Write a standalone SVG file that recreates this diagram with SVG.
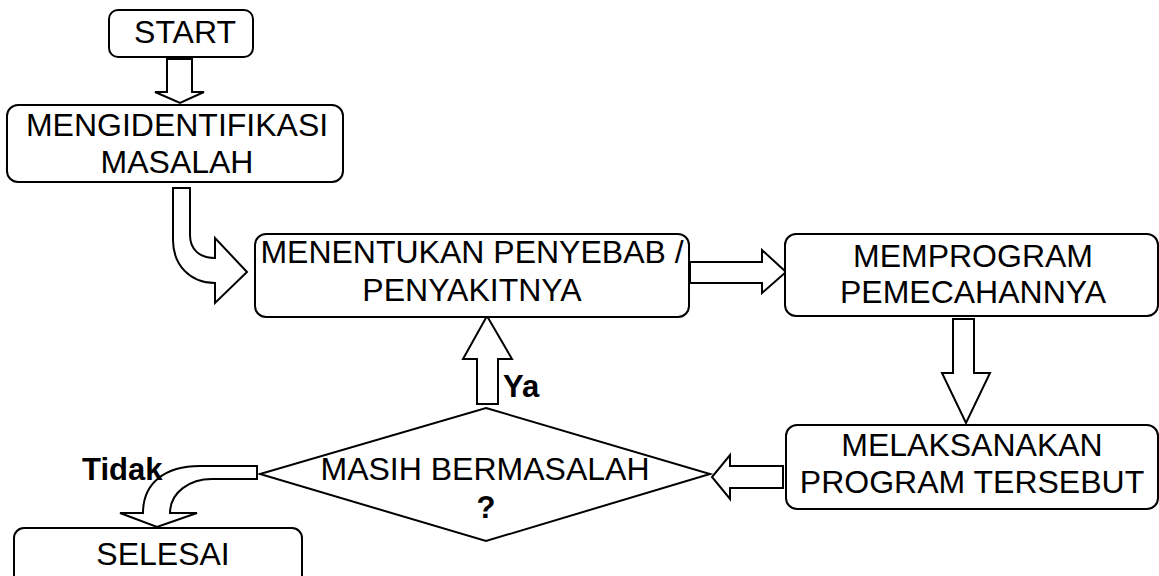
<svg xmlns="http://www.w3.org/2000/svg" width="1159" height="576" viewBox="0 0 1159 576">
<style>
.box{fill:#fff;stroke:#000;stroke-width:2}
.arr{fill:#fff;stroke:#000;stroke-width:2;stroke-linejoin:miter}
.t{font-family:"Liberation Sans",Arial,sans-serif;font-size:32px;fill:#000;text-anchor:middle}
.b{font-family:"Liberation Sans",Arial,sans-serif;font-size:31px;font-weight:bold;fill:#000}
</style>
<rect width="1159" height="576" fill="#fff"/>
<g id="connectors">
<path class="arr" d="M167,59 H192 V92 H204 L180,103 L155,92 H167 Z"/>
<path class="arr" d="M173,188 H190 V235 C190,250 200,258 215,258 V238 L247,272 L215,303 V283 C190,283 173,265 173,240 Z"/>
<path class="arr" d="M690,262 H762 V250 L786,272 L762,293 V283 H690 Z"/>
<path class="arr" d="M953,319 H974 V373 H990 L966,423 L942,373 H953 Z"/>
<path class="arr" d="M783,466 V488 H730 V499 L712,477 L730,455 V466 Z"/>
<path class="arr" d="M477,404 V359 H463 L487,316 L512,359 H498 V404 Z"/>
<path class="arr" d="M257,466 V479 H212 C190,479 170,492 170,513 H197 L157,527 L120,513 H143 C143,483 165,466 200,466 Z"/>
</g>
<g id="start">
<rect class="box" x="109" y="10" width="144" height="47" rx="9"/>
<text class="t" x="185" y="43">START</text>
</g>
<g id="identifikasi">
<rect class="box" x="7" y="105" width="336" height="77" rx="11"/>
<text class="t" x="177" y="136">MENGIDENTIFIKASI</text>
<text class="t" x="177" y="172.5">MASALAH</text>
</g>
<g id="penyebab">
<rect class="box" x="255" y="234" width="434" height="83" rx="11"/>
<text class="t" x="472" y="263">MENENTUKAN PENYEBAB /</text>
<text class="t" x="472" y="301">PENYAKITNYA</text>
</g>
<g id="memprogram">
<rect class="box" x="785" y="234" width="373" height="82" rx="11"/>
<text class="t" x="973" y="267">MEMPROGRAM</text>
<text class="t" x="973" y="303">PEMECAHANNYA</text>
</g>
<g id="melaksanakan">
<rect class="box" x="786" y="425" width="372" height="84" rx="11"/>
<text class="t" x="972" y="456">MELAKSANAKAN</text>
<text class="t" x="972" y="493">PROGRAM TERSEBUT</text>
</g>
<g id="keputusan">
<polygon class="box" points="486,408 710,474 486,541 260,474"/>
<text class="t" x="485" y="480">MASIH BERMASALAH</text>
<text class="b" x="486" y="518" text-anchor="middle">?</text>
</g>
<g id="selesai">
<rect class="box" x="14" y="528" width="288" height="70" rx="10"/>
<text class="t" x="163" y="565">SELESAI</text>
</g>
<g id="labels">
<text class="b" x="503" y="397">Ya</text>
<text class="b" x="82" y="480">Tidak</text>
</g>
</svg>
